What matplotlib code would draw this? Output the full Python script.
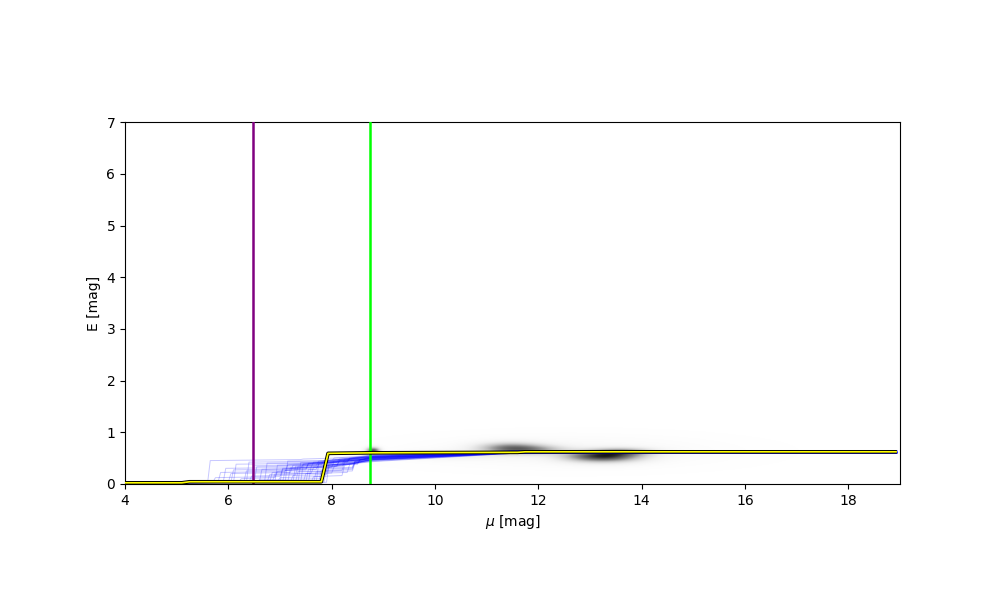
import numpy as np
import matplotlib
matplotlib.use("Agg")
import matplotlib.pyplot as plt

# ---- data ----
x_min, x_max, y_min, y_max = 4.0, 19.0, 0.0, 7.0
x_purple = 6.48
x_green = 8.74

# best-fit (yellow) extinction profile
best_mu = [4.0, 5.1, 5.25, 7.8, 7.93, 8.75, 11.6, 11.75, 18.94]
best_E = [0.02, 0.02, 0.04, 0.04, 0.59, 0.60, 0.61, 0.62, 0.62]

# posterior samples (blue): first jump, its level, second jump, its level,
# level at ~8.8 mag, final plateau
s_x1 = [5.6, 5.7, 5.9, 6.0, 6.1, 6.2, 6.3, 6.35, 6.4, 6.5, 6.55, 6.6, 6.7, 6.75, 6.8,
        6.9, 6.95, 7.0, 7.05, 7.1, 7.2, 7.25, 7.3, 7.4, 7.45, 7.5, 7.55, 7.6, 7.7, 7.75,
        7.8, 7.85, 5.8, 6.05, 6.45, 6.85, 7.15, 7.35, 7.65, 7.9]
s_e1 = [0.45, 0.12, 0.30, 0.20, 0.38, 0.10, 0.25, 0.42, 0.15, 0.33, 0.08, 0.28, 0.40, 0.18, 0.22,
        0.36, 0.12, 0.30, 0.26, 0.44, 0.16, 0.34, 0.24, 0.38, 0.20, 0.28, 0.32, 0.14, 0.40, 0.26,
        0.36, 0.30, 0.22, 0.27, 0.35, 0.19, 0.31, 0.41, 0.23, 0.37]
s_x2 = [7.4, 7.0, 7.6, 7.2, 7.9, 6.9, 7.5, 8.0, 7.3, 7.7, 7.8, 7.4, 8.1, 7.6, 7.9,
        8.2, 7.8, 8.0, 7.7, 8.3, 7.9, 8.1, 8.2, 8.0, 8.3, 8.4, 8.1, 8.2, 8.3, 8.4,
        8.5, 8.4, 7.1, 7.5, 7.8, 8.0, 8.2, 8.3, 8.4, 8.5]
s_e2 = [0.48, 0.28, 0.42, 0.36, 0.46, 0.24, 0.40, 0.50, 0.34, 0.44, 0.30, 0.38, 0.48, 0.32, 0.40,
        0.47, 0.35, 0.44, 0.39, 0.50, 0.33, 0.45, 0.41, 0.46, 0.38, 0.43, 0.45, 0.36, 0.48, 0.42,
        0.47, 0.44, 0.37, 0.39, 0.45, 0.34, 0.43, 0.49, 0.40, 0.46]
s_e3 = [0.52, 0.44, 0.50, 0.47, 0.53, 0.43, 0.49, 0.55, 0.46, 0.51, 0.45, 0.48, 0.54, 0.46, 0.50,
        0.53, 0.47, 0.51, 0.49, 0.56, 0.46, 0.52, 0.50, 0.53, 0.48, 0.51, 0.52, 0.47, 0.54, 0.50,
        0.53, 0.51, 0.48, 0.49, 0.52, 0.47, 0.51, 0.55, 0.49, 0.53]
s_e4 = [0.60, 0.59, 0.61, 0.60, 0.63, 0.59, 0.60, 0.64, 0.60, 0.61, 0.59, 0.60, 0.63, 0.60, 0.61,
        0.63, 0.60, 0.61, 0.60, 0.64, 0.59, 0.61, 0.61, 0.63, 0.60, 0.61, 0.63, 0.60, 0.63, 0.61,
        0.63, 0.61, 0.60, 0.60, 0.61, 0.59, 0.61, 0.64, 0.60, 0.63]

# density of stars (grey blobs): centre mu, centre E, widths, weight
blob_mu = [11.45, 12.0, 13.25, 13.65, 12.6, 8.8, 10.3]
blob_E = [0.69, 0.66, 0.53, 0.62, 0.62, 0.64, 0.56]
blob_smu = [0.42, 0.40, 0.50, 0.40, 1.9, 0.09, 0.6]
blob_sE = [0.075, 0.06, 0.075, 0.05, 0.20, 0.045, 0.06]
blob_w = [0.55, 0.28, 0.80, 0.40, 0.06, 0.75, 0.12]

# ---- figure ----
fig, ax = plt.subplots(figsize=(10, 6), dpi=100)

gx = np.linspace(x_min, x_max, 900)
gy = np.linspace(y_min, y_max, 900)
GX, GY = np.meshgrid(gx, gy)
dens = np.zeros_like(GX)
for m, e, sm, se, w in zip(blob_mu, blob_E, blob_smu, blob_sE, blob_w):
    dens += w * np.exp(-0.5 * (((GX - m) / sm) ** 2 + ((GY - e) / se) ** 2))
dens = np.clip(dens, 0, 1)
ax.imshow(dens, extent=(x_min, x_max, y_min, y_max), origin="lower",
          cmap="Greys", vmin=0, vmax=1, aspect="equal", interpolation="bilinear", zorder=0)

for x1, e1, x2, e2, e3, e4 in zip(s_x1, s_e1, s_x2, s_e2, s_e3, s_e4):
    xs = [4.0, x1, x1 + 0.05, x2, x2 + 0.05, 8.8, 11.5, 18.94]
    ys = [0.02, 0.03, e1, e1 + 0.02, e2, e3, e4, e4]
    ax.plot(xs, ys, color="blue", lw=0.7, alpha=0.22, zorder=2)

ax.axvline(x_purple, color="purple", lw=1.8, zorder=3)
ax.axvline(x_green, color="lime", lw=1.8, zorder=3)

ax.plot(best_mu, best_E, color="black", lw=2.6, zorder=4, solid_capstyle="butt")
ax.plot(best_mu, best_E, color="yellow", lw=1.2, zorder=5, solid_capstyle="butt")

ax.set_xlim(x_min, x_max)
ax.set_ylim(y_min, y_max)
ax.set_xlabel(r"$\mu$ [mag]")
ax.set_ylabel("E [mag]")

fig.savefig("out.png", dpi=100)
